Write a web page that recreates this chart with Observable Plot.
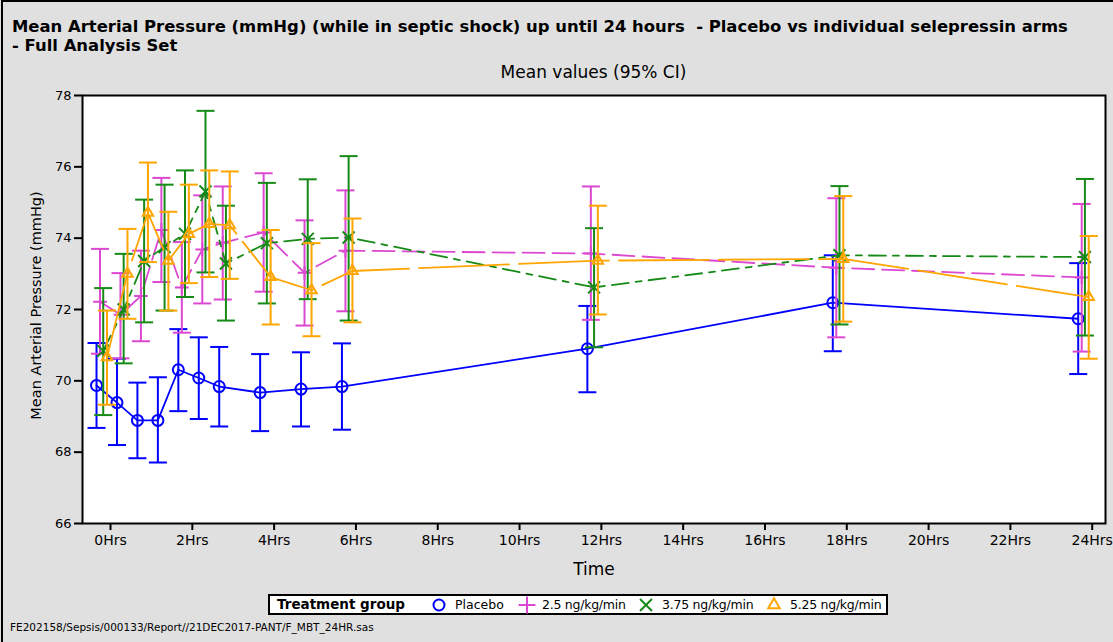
<!DOCTYPE html>
<html>
<head>
<meta charset="utf-8">
<script src="https://cdn.jsdelivr.net/npm/d3@7"></script>
<script src="https://cdn.jsdelivr.net/npm/@observablehq/plot@0.6"></script>
<style>
  html, body { margin: 0; padding: 0; width: 1113px; height: 642px; overflow: hidden; background: #e0e0e0; font-family: "DejaVu Sans", sans-serif; color: #000; }
  #border { position: absolute; left: 1px; top: 0; width: 1200px; height: 700px; border-left: 2px solid #000; border-top: 2px solid #000; }
  .title { position: absolute; left: 12px; font-weight: bold; font-size: 16.45px; line-height: 20px; white-space: pre; }
  #subtitle { position: absolute; left: 0; width: 1187px; top: 62px; text-align: center; font-size: 17px; line-height: 20px; }
  #chart { position: absolute; left: 0; top: 80px; }
  #legend { position: absolute; left: 268px; top: 594px; width: 616px; height: 17px; background: #fff; border: 2px solid #000; font-size: 12.5px; white-space: nowrap; }
  #legend span { position: absolute; top: 0; line-height: 17px; }
  #legend .head { font-weight: bold; font-size: 13.5px; }
  #legend .dose { letter-spacing: -0.25px; }
  #legend svg { position: absolute; top: 1.5px; overflow: visible; }
  #footer { position: absolute; left: 10px; top: 621px; font-size: 10.5px; white-space: nowrap; }
</style>
</head>
<body>
<div id="border"></div>
<div class="title" style="top:17px">Mean Arterial Pressure (mmHg) (while in septic shock) up until 24 hours  - Placebo vs individual selepressin arms</div>
<div class="title" style="top:36px">- Full Analysis Set</div>
<div id="subtitle">Mean values (95% CI)</div>
<div id="chart"></div>
<div id="legend"></div>
<div id="footer">FE202158/Sepsis/000133/Report//21DEC2017-PANT/F_MBT_24HR.sas</div>
<script>
// Visit times (hours after start of treatment)
const times = [0, 0.5, 1, 1.5, 2, 2.5, 3, 4, 5, 6, 12, 18, 24];
const xTicks = [0, 2, 4, 6, 8, 10, 12, 14, 16, 18, 20, 22, 24];
const yTicks = [66, 68, 70, 72, 74, 76, 78];

const groupNames = ["Placebo", "2.5 ng/kg/min", "3.75 ng/kg/min", "5.25 ng/kg/min"];

// Mean MAP and 95% CI per arm
const placeboMean = [69.87, 69.39, 68.89, 68.89, 70.31, 70.08, 69.84, 69.67, 69.77, 69.84, 70.90, 72.19, 71.74];
const placeboLo   = [68.68, 68.20, 67.83, 67.71, 69.15, 68.93, 68.72, 68.59, 68.72, 68.63, 69.68, 70.83, 70.19];
const placeboHi   = [71.06, 70.62, 69.95, 70.10, 71.45, 71.22, 70.95, 70.75, 70.80, 71.05, 72.10, 73.52, 73.30];

const dose25Mean = [72.22, 71.85, 72.38, 74.23, 72.62, 73.68, 73.87, 74.16, 73.03, 73.65, 73.57, 73.17, 72.90];
const dose25Lo   = [70.76, 70.63, 71.11, 72.77, 71.35, 72.17, 72.28, 72.50, 71.55, 71.95, 71.71, 71.22, 70.82];
const dose25Hi   = [73.70, 73.02, 73.65, 75.69, 73.89, 75.20, 75.45, 75.82, 74.50, 75.34, 75.45, 75.12, 74.96];

const dose375Mean = [70.84, 72.00, 73.36, 73.75, 74.12, 75.31, 73.29, 73.86, 73.98, 74.02, 72.62, 73.52, 73.47];
const dose375Lo   = [69.04, 70.49, 71.64, 71.97, 72.35, 73.04, 71.69, 72.17, 72.29, 71.69, 70.94, 71.58, 71.27];
const dose375Hi   = [72.60, 73.56, 75.08, 75.50, 75.90, 77.57, 74.91, 75.55, 75.65, 76.30, 74.28, 75.46, 75.66];

const dose525Mean = [70.66, 73.00, 74.71, 73.37, 74.12, 74.40, 74.36, 72.91, 72.54, 73.08, 73.37, 73.42, 72.35];
const dose525Lo   = [69.33, 71.74, 73.33, 71.97, 72.74, 72.91, 72.86, 71.58, 71.25, 71.64, 71.86, 71.66, 70.62];
const dose525Hi   = [71.97, 74.26, 76.12, 74.74, 75.50, 75.90, 75.87, 74.23, 73.86, 74.55, 74.91, 75.18, 74.06];

// Drawing style per arm (cluster shift in px so error bars don't overlap)
const series = [
  {name: groupNames[0], mean: placeboMean, lo: placeboLo, hi: placeboHi, color: "#0000ff", symbol: "circle",    r: 5.5, dash: null,       shift: -14},
  {name: groupNames[1], mean: dose25Mean,  lo: dose25Lo,  hi: dose25Hi,  color: "#dc48d2", symbol: "plus",      r: 4.5, dash: "22,8",     shift: -10.5},
  {name: groupNames[2], mean: dose375Mean, lo: dose375Lo, hi: dose375Hi, color: "#168a16", symbol: "times",     r: 5.5, dash: "17,7,6,7", shift: -7.3},
  {name: groupNames[3], mean: dose525Mean, lo: dose525Lo, hi: dose525Hi, color: "#ffa500", symbol: "triangle2", r: 5,   dash: "90,10",    shift: -3.5}
];

// Horizontal cap for the error bars
const capSymbol = {
  draw(context, size) {
    const r = Math.sqrt(size / Math.PI);
    context.moveTo(-r, 0);
    context.lineTo(r, 0);
  }
};

const marks = [Plot.frame({fill: "white"})];
for (const s of series) {
  const rows = times.map((t, i) => ({t, mean: s.mean[i], lo: s.lo[i], hi: s.hi[i]}));
  marks.push(
    Plot.ruleX(rows, {x: "t", y1: "lo", y2: "hi", dx: s.shift, stroke: s.color, strokeWidth: 2}),
    Plot.dot(rows, {x: "t", y: "lo", dx: s.shift, symbol: capSymbol, r: 9, stroke: s.color, strokeWidth: 2, fill: "none"}),
    Plot.dot(rows, {x: "t", y: "hi", dx: s.shift, symbol: capSymbol, r: 9, stroke: s.color, strokeWidth: 2, fill: "none"}),
    Plot.line(rows, {x: "t", y: "mean", dx: s.shift, stroke: s.color, strokeWidth: 1.8, strokeDasharray: s.dash}),
    Plot.dot(rows, {x: "t", y: "mean", dx: s.shift, symbol: s.symbol, r: s.r, stroke: s.color, strokeWidth: 2, fill: "none"})
  );
}
marks.push(
  Plot.frame({stroke: "black", strokeWidth: 2}),
  Plot.axisX({ticks: xTicks, tickFormat: d => d + "Hrs", tickSize: 7, tickPadding: 5, fontSize: 14, label: null, strokeWidth: 2}),
  Plot.axisY({ticks: yTicks, tickSize: 8, tickPadding: 3, fontSize: 13, label: null, strokeWidth: 2}),
  Plot.text(["Time"], {frameAnchor: "bottom", dy: 51, text: d => d, fontSize: 17}),
  Plot.text(["Mean Arterial Pressure (mmHg)"], {frameAnchor: "left", textAnchor: "middle", dx: -46, dy: -4, rotate: -90, text: d => d, fontSize: 14.5})
);

const chart = Plot.plot({
  width: 1113,
  height: 500,
  marginTop: 15,
  marginBottom: 57,
  marginLeft: 82,
  marginRight: 8,
  style: {background: "transparent", fontFamily: "DejaVu Sans, sans-serif", color: "black"},
  x: {domain: [-0.685, 24.325]},
  y: {domain: [66, 78]},
  marks
});
document.getElementById("chart").appendChild(chart);

// Legend box: caption, then a symbol and label for each arm
const legend = document.getElementById("legend");
const legendLeft = 270;
const head = document.createElement("span");
head.className = "head";
head.style.left = (277 - legendLeft) + "px";
head.textContent = "Treatment group";
legend.appendChild(head);
const symbolTypes = {circle: d3.symbolCircle, plus: d3.symbolPlus, times: d3.symbolTimes, triangle2: d3.symbolTriangle2};
const symbolX = [439, 527, 646, 774];
const labelX = [455, 542, 662, 790];
series.forEach((s, i) => {
  const svg = d3.create("svg").attr("width", 14).attr("height", 14).attr("viewBox", "-7 -7 14 14")
    .style("left", (symbolX[i] - 7 - legendLeft) + "px");
  svg.append("path")
    .attr("d", d3.symbol(symbolTypes[s.symbol], Math.PI * 5.5 * 5.5)())
    .attr("fill", "none").attr("stroke", s.color).attr("stroke-width", 2);
  legend.appendChild(svg.node());
  const label = document.createElement("span");
  if (i > 0) label.className = "dose";
  label.style.left = (labelX[i] - legendLeft) + "px";
  label.textContent = s.name;
  legend.appendChild(label);
});
</script>
</body>
</html>
